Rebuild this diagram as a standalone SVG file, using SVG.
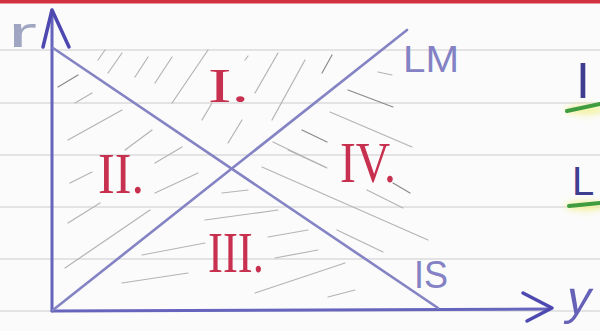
<svg xmlns="http://www.w3.org/2000/svg" width="600" height="331" viewBox="0 0 600 331">
  <defs>
    <style>
      .rule { stroke: #cbcbce; stroke-width: 1; }
      .hatch { stroke: #b4b4b6; stroke-width: 1.2; stroke-linecap: round; fill: none; }
      .hatch.dk { stroke: #8a8a8d; }
      .axis { stroke: #6764bd; stroke-width: 3; stroke-linecap: round; fill: none; }
      .arrow { stroke: #4d49b0; stroke-width: 3.5; stroke-linecap: round; stroke-linejoin: round; fill: none; }
      .curve { stroke: #8483c4; stroke-width: 2.6; stroke-linecap: round; fill: none; }
      .roman { font-family: "Liberation Serif", serif; fill: #c8304f; }
      .curvelabel { font-family: "Liberation Sans", sans-serif; fill: #8482c4; }
      .side { font-family: "Liberation Sans", sans-serif; fill: #3f3d8f; }
      .green { stroke: #3f9d3f; stroke-width: 4; stroke-linecap: round; fill: none; }
    </style>
    <filter id="glow" x="-50%" y="-200%" width="200%" height="500%">
      <feGaussianBlur stdDeviation="3"/>
    </filter>
  </defs>

  <g id="paper">
    <rect x="0" y="0" width="600" height="331" fill="#fbfbfb"/>
    <rect x="0" y="0" width="600" height="3.5" fill="#d2323f"/>
    <line class="rule" x1="0" y1="50" x2="600" y2="50"/>
    <line class="rule" x1="0" y1="103" x2="600" y2="103"/>
    <line class="rule" x1="0" y1="155" x2="600" y2="155"/>
    <line class="rule" x1="0" y1="207" x2="600" y2="207"/>
    <line class="rule" x1="0" y1="259" x2="600" y2="259"/>
    <line class="rule" x1="0" y1="311" x2="600" y2="311"/>
  </g>

  <g id="hatching">
    <!-- region I -->
    <line class="hatch" x1="98" y1="60" x2="105" y2="50"/>
    <line class="hatch" x1="108" y1="73" x2="122" y2="53"/>
    <line class="hatch" x1="135" y1="77" x2="148" y2="57"/>
    <line class="hatch" x1="155" y1="83" x2="172" y2="57"/>
    <line class="hatch" x1="172" y1="103" x2="208" y2="50"/>
    <line class="hatch" x1="202" y1="120" x2="212" y2="103"/>
    <line class="hatch" x1="228" y1="143" x2="242" y2="120"/>
    <line class="hatch" x1="245" y1="60" x2="248" y2="56"/>
    <line class="hatch" x1="255" y1="93" x2="278" y2="53"/>
    <line class="hatch" x1="272" y1="120" x2="305" y2="60"/>
    <line class="hatch dk" x1="322" y1="73" x2="332" y2="55"/>
    <!-- region II -->
    <line class="hatch dk" x1="58" y1="87" x2="78" y2="75"/>
    <line class="hatch" x1="75" y1="103" x2="92" y2="93"/>
    <line class="hatch" x1="68" y1="140" x2="122" y2="110"/>
    <line class="hatch" x1="125" y1="150" x2="152" y2="130"/>
    <line class="hatch" x1="155" y1="163" x2="182" y2="147"/>
    <line class="hatch" x1="70" y1="183" x2="92" y2="172"/>
    <line class="hatch" x1="68" y1="223" x2="100" y2="203"/>
    <line class="hatch" x1="65" y1="268" x2="150" y2="210"/>
    <line class="hatch" x1="155" y1="193" x2="198" y2="173"/>
    <!-- region III -->
    <line class="hatch" x1="222" y1="193" x2="248" y2="190"/>
    <line class="hatch" x1="205" y1="220" x2="278" y2="210"/>
    <line class="hatch" x1="268" y1="237" x2="308" y2="230"/>
    <line class="hatch" x1="142" y1="255" x2="205" y2="243"/>
    <line class="hatch" x1="275" y1="258" x2="318" y2="250"/>
    <line class="hatch" x1="122" y1="283" x2="188" y2="273"/>
    <line class="hatch" x1="255" y1="293" x2="345" y2="263"/>
    <line class="hatch" x1="328" y1="297" x2="355" y2="290"/>
    <!-- region IV -->
    <line class="hatch" x1="378" y1="72" x2="392" y2="75"/>
    <line class="hatch dk" x1="348" y1="90" x2="393" y2="107"/>
    <line class="hatch" x1="330" y1="112" x2="412" y2="147"/>
    <line class="hatch dk" x1="302" y1="130" x2="327" y2="142"/>
    <line class="hatch" x1="273" y1="142" x2="327" y2="168"/>
    <line class="hatch" x1="262" y1="167" x2="428" y2="240"/>
    <line class="hatch dk" x1="393" y1="183" x2="410" y2="193"/>
    <line class="hatch" x1="367" y1="190" x2="403" y2="208"/>
    <line class="hatch" x1="337" y1="230" x2="383" y2="252"/>
    <line class="hatch" x1="288" y1="150" x2="325" y2="167"/>
  </g>

  <g id="axes">
    <line class="axis" x1="52" y1="311" x2="52" y2="12"/>
    <line class="axis" x1="52" y1="311" x2="550" y2="309"/>
    <polyline class="arrow" points="43,47 52,10 69,47"/>
    <polyline class="arrow" points="523,293 552,308 527,321"/>
  </g>

  <g id="connectors">
    <line id="IS-curve" class="curve" x1="53" y1="48" x2="438" y2="308"/>
    <line id="LM-curve" class="curve" x1="53" y1="310" x2="407" y2="30"/>
  </g>

  <g id="axis-labels">
    <text x="8" y="47" font-family="Liberation Sans, sans-serif" font-size="42" fill="#a0a6c2" textLength="29" lengthAdjust="spacingAndGlyphs">r</text>
    <text x="564" y="314" font-family="Liberation Sans, sans-serif" font-size="48" fill="#6562b8" transform="skewX(-12) translate(67 0)">y</text>
  </g>

  <g id="curve-labels">
    <text class="curvelabel" x="403" y="72" font-size="37" textLength="56" lengthAdjust="spacingAndGlyphs">LM</text>
    <text class="curvelabel" x="414" y="288" font-size="38" textLength="34" lengthAdjust="spacingAndGlyphs">IS</text>
  </g>

  <g id="region-I">
    <text class="roman" x="208" y="102" font-size="48" textLength="41" lengthAdjust="spacingAndGlyphs">I.</text>
  </g>
  <g id="region-II">
    <text class="roman" x="98" y="193" font-size="58" textLength="46" lengthAdjust="spacingAndGlyphs">II.</text>
  </g>
  <g id="region-III">
    <text class="roman" x="208" y="272" font-size="58" textLength="56" lengthAdjust="spacingAndGlyphs">III.</text>
  </g>
  <g id="region-IV">
    <text class="roman" x="340" y="182" font-size="58" textLength="56" lengthAdjust="spacingAndGlyphs">IV.</text>
  </g>

  <g id="side-notes">
    <ellipse cx="585" cy="110" rx="20" ry="5" fill="#f3f3a6" filter="url(#glow)"/>
    <ellipse cx="585" cy="206" rx="20" ry="5" fill="#f3f3a6" filter="url(#glow)"/>
    <text class="side" x="576" y="98" font-size="50">I</text>
    <line class="green" x1="567" y1="111" x2="600" y2="104"/>
    <text class="side" x="572" y="195" font-size="40">L</text>
    <line class="green" x1="569" y1="206" x2="600" y2="203"/>
  </g>
</svg>
